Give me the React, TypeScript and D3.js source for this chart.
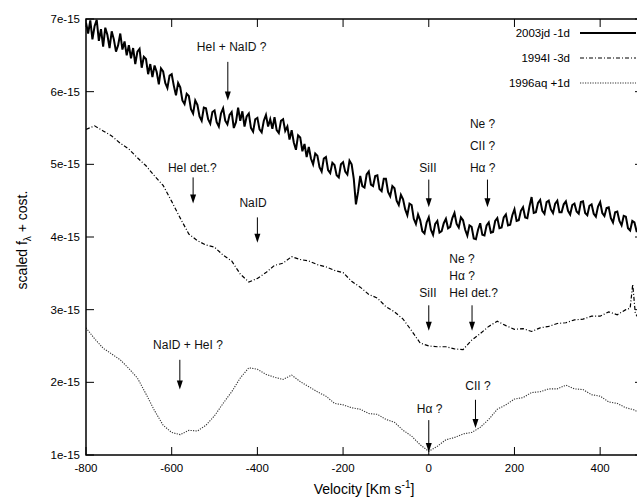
import React from "react";
import * as d3 from "d3";

// ---------- DATA (flux in units of 1e-15) ----------
const sn2003jdVel = d3.range(-800, 491, 5);
const sn2003jdFlux = [
  6.95, 6.8, 6.98, 6.72, 6.9, 6.99, 6.7, 6.86, 6.62, 6.88,
  6.78, 6.6, 6.83, 6.72, 6.55, 6.64, 6.8, 6.58, 6.69, 6.5,
  6.64, 6.46, 6.6, 6.38, 6.55, 6.59, 6.33, 6.48, 6.45, 6.24,
  6.38, 6.2, 6.36, 6.27, 6.1, 6.32, 6.28, 6.12, 6.05, 6.22,
  6.24, 6.08, 5.95, 6.12, 6.06, 5.88, 5.83, 5.97, 5.94, 5.76,
  5.7, 5.88, 5.82, 5.66, 5.6, 5.78, 5.77, 5.62, 5.56, 5.72,
  5.74, 5.58, 5.52, 5.7, 5.77, 5.6, 5.55, 5.68, 5.72, 5.5,
  5.58, 5.78, 5.6, 5.73, 5.52, 5.66, 5.7, 5.5, 5.45, 5.62,
  5.64, 5.48, 5.44, 5.6, 5.68, 5.52, 5.62, 5.49, 5.65, 5.47,
  5.43, 5.6, 5.62, 5.46, 5.52, 5.34, 5.47, 5.3, 5.2, 5.4,
  5.37, 5.18, 5.28, 5.1, 5.24, 5.08, 5.0, 5.15, 5.12, 4.96,
  4.9, 5.08, 5.1, 4.92, 4.88, 5.02, 4.99, 4.85, 4.82, 5.0,
  5.03, 4.9, 4.86, 5.05, 5.0, 4.8, 4.45, 4.62, 4.84, 4.7,
  4.68, 4.86, 4.9, 4.72, 4.7, 4.84, 4.85, 4.66, 4.63, 4.8,
  4.8, 4.62, 4.56, 4.7, 4.67, 4.5, 4.44, 4.58, 4.52, 4.38,
  4.3, 4.46, 4.44, 4.25, 4.18, 4.31, 4.23, 4.08, 4.05, 4.2,
  4.27, 4.1, 4.03, 4.18, 4.22, 4.06, 4.08, 4.19, 4.25, 4.12,
  4.14, 4.26, 4.33, 4.18, 4.13, 4.27, 4.23, 4.1, 4.02, 4.16,
  4.14, 3.98, 3.97, 4.1, 4.19, 4.03, 4.02, 4.16, 4.2, 4.06,
  4.07, 4.22, 4.26, 4.12, 4.13, 4.27, 4.31, 4.16, 4.17, 4.3,
  4.38, 4.22, 4.23, 4.36, 4.41, 4.27, 4.26, 4.42, 4.55, 4.33,
  4.34, 4.47, 4.51, 4.36, 4.32, 4.48, 4.5, 4.38, 4.33, 4.46,
  4.5, 4.34, 4.34, 4.45, 4.49, 4.36, 4.31, 4.44, 4.46, 4.35,
  4.32, 4.48, 4.49, 4.33, 4.3, 4.43, 4.45, 4.32, 4.28, 4.42,
  4.48, 4.33, 4.29, 4.4, 4.41, 4.26, 4.2, 4.34, 4.35, 4.22,
  4.16, 4.29, 4.28, 4.12, 4.09, 4.22, 4.2, 4.08, 4.08,
];

const sn1994IVel = [
  -800, -780, -760, -740, -720, -700, -680, -660, -640, -620,
  -600, -580, -560, -540, -520, -500, -480, -460, -440, -420,
  -400, -380, -360, -340, -320, -300, -280, -260, -240, -220,
  -200, -180, -160, -140, -120, -100, -80, -60, -40, -20,
  0, 20, 40, 60, 80, 100, 120, 140, 160, 180,
  200, 220, 240, 260, 280, 300, 320, 340, 360, 380,
  400, 420, 440, 460, 470, 476, 482, 490,
];
const sn1994IFlux = [
  5.48, 5.53, 5.46, 5.39, 5.29, 5.21, 5.09, 4.98, 4.84, 4.71,
  4.49, 4.26, 4.04, 3.95, 3.89, 3.86, 3.75, 3.67, 3.49, 3.38,
  3.43, 3.51, 3.61, 3.64, 3.73, 3.69, 3.67, 3.62, 3.59, 3.54,
  3.51, 3.39, 3.31, 3.21, 3.16, 3.04, 2.97, 2.87, 2.71, 2.54,
  2.5, 2.49, 2.49, 2.46, 2.45, 2.58, 2.67, 2.77, 2.84, 2.78,
  2.73, 2.74, 2.7, 2.75, 2.77, 2.81, 2.82, 2.86, 2.87, 2.91,
  2.91, 2.97, 2.93, 3.0, 3.02, 3.35, 2.95, 2.88,
];

const sn1996aqVel = [
  -800, -780, -760, -740, -720, -700, -680, -660, -640, -620,
  -600, -580, -560, -540, -520, -500, -480, -460, -440, -420,
  -400, -380, -360, -340, -320, -300, -280, -260, -240, -220,
  -200, -180, -160, -140, -120, -100, -80, -60, -40, -20,
  0, 20, 40, 60, 80, 100, 120, 140, 160, 180,
  200, 220, 240, 260, 280, 300, 320, 340, 360, 380,
  400, 420, 440, 460, 480, 490,
];
const sn1996aqFlux = [
  2.75, 2.6, 2.47, 2.39, 2.31, 2.19, 2.06, 1.84, 1.61, 1.41,
  1.31, 1.28, 1.34, 1.33, 1.41, 1.54, 1.71, 1.87, 2.06, 2.2,
  2.18, 2.11, 2.07, 2.04, 2.1, 2.01, 1.94, 1.87, 1.81, 1.71,
  1.69, 1.65, 1.63, 1.57, 1.56, 1.49, 1.45, 1.34, 1.26, 1.14,
  1.05, 1.12, 1.21, 1.24, 1.29, 1.31, 1.38, 1.49, 1.63, 1.69,
  1.77, 1.79, 1.86, 1.87, 1.91, 1.91, 1.96, 1.91, 1.9, 1.83,
  1.81, 1.73, 1.71, 1.65, 1.62, 1.58,
];

const xTicks = [-800, -600, -400, -200, 0, 200, 400];
const yTicks = [1, 2, 3, 4, 5, 6, 7];
const yTickLabels = ["1e-15", "2e-15", "3e-15", "4e-15", "5e-15", "6e-15", "7e-15"];

const legendLabels = ["2003jd -1d", "1994I -3d", "1996aq +1d"];

// annotations: label lines, arrow velocity, arrow from/to flux, text baseline flux of last line
const annotations = [
  { lines: ["HeI + NaID ?"], v: -469, from: 6.41, to: 5.88, text: 6.56, anchor: "middle", tx: -460, gap: 22 },
  { lines: ["HeI det.?"], v: -550, from: 4.82, to: 4.46, text: 4.9, anchor: "middle", tx: -552, gap: 22 },
  { lines: ["NaID"], v: -400, from: 4.27, to: 3.92, text: 4.41, anchor: "middle", tx: -410, gap: 22 },
  { lines: ["SiII"], v: 0, from: 4.79, to: 4.41, text: 4.9, anchor: "middle", tx: -2, gap: 22 },
  { lines: ["Ne  ?", "CII ?", "Hα ?"], v: 137, from: 4.79, to: 4.41, text: 4.9, anchor: "start", tx: 96, gap: 22 },
  { lines: ["SiII"], v: 0, from: 3.06, to: 2.71, text: 3.18, anchor: "middle", tx: -2, gap: 22 },
  { lines: ["Ne  ?", "Hα ?", "HeI det.?"], v: 101, from: 3.06, to: 2.71, text: 3.18, anchor: "start", tx: 48, gap: 17 },
  { lines: ["NaID + HeI ?"], v: -581, from: 2.31, to: 1.9, text: 2.46, anchor: "middle", tx: -562, gap: 22 },
  { lines: ["Hα ?"], v: 0, from: 1.48, to: 1.04, text: 1.58, anchor: "middle", tx: 2, gap: 22 },
  { lines: ["CII ?"], v: 109, from: 1.76, to: 1.37, text: 1.89, anchor: "middle", tx: 115, gap: 22 },
];

// ---------- LAYOUT ----------
const W = 637;
const H = 500;
const M = { left: 86, right: 643, top: 19, bottom: 455 };
const FONT = "'Liberation Sans', Arial, Helvetica, sans-serif";

export default function App() {
  const x = d3.scaleLinear().domain([-800, 500]).range([M.left, M.right]);
  const y = d3.scaleLinear().domain([1, 7]).range([M.bottom, M.top]);

  const line = (vs: number[], fs: number[]) =>
    d3
      .line<number>()
      .x((_, i) => x(vs[i]))
      .y((f) => y(f))(fs) || "";

  const series = [
    { vel: sn2003jdVel, flux: sn2003jdFlux, stroke: "#000", width: 2, dash: undefined as string | undefined },
    { vel: sn1994IVel, flux: sn1994IFlux, stroke: "#000", width: 1.2, dash: "4,2,1,2" },
    { vel: sn1996aqVel, flux: sn1996aqFlux, stroke: "#333", width: 1.1, dash: "1.2,1.3" },
  ];

  const tickLen = 8;

  return (
    <svg
      width={W}
      height={H}
      style={{ position: "absolute", left: 0, top: 0, background: "#fff" }}
      fontFamily={FONT}
    >
      <defs>
        <clipPath id="plotclip">
          <rect x={M.left} y={M.top} width={M.right - M.left} height={M.bottom - M.top} />
        </clipPath>
      </defs>

      {/* curves */}
      <g clipPath="url(#plotclip)">
        {series.map((s, i) => (
          <path
            key={i}
            d={line(s.vel, s.flux)}
            fill="none"
            stroke={s.stroke}
            strokeWidth={s.width}
            strokeDasharray={s.dash}
            strokeLinejoin="miter"
          />
        ))}
      </g>

      {/* frame */}
      <rect
        x={M.left}
        y={M.top}
        width={M.right - M.left}
        height={M.bottom - M.top}
        fill="none"
        stroke="#000"
        strokeWidth={1.5}
      />

      {/* x ticks */}
      {xTicks.map((t) => (
        <g key={t}>
          <line x1={x(t)} x2={x(t)} y1={M.bottom} y2={M.bottom - tickLen} stroke="#000" strokeWidth={1} />
          <line x1={x(t)} x2={x(t)} y1={M.top} y2={M.top + tickLen} stroke="#000" strokeWidth={1} />
          <text x={x(t)} y={M.bottom + 17} textAnchor="middle" fontSize={11.5} fill="#000">
            {t}
          </text>
        </g>
      ))}

      {/* y ticks */}
      {yTicks.map((t, i) => (
        <g key={t}>
          <line x1={M.left} x2={M.left + tickLen} y1={y(t)} y2={y(t)} stroke="#000" strokeWidth={1} />
          <line x1={M.right} x2={M.right - tickLen} y1={y(t)} y2={y(t)} stroke="#000" strokeWidth={1} />
          <text x={M.left - 6} y={y(t) + 4} textAnchor="end" fontSize={11.5} fill="#000">
            {yTickLabels[i]}
          </text>
        </g>
      ))}

      {/* axis labels */}
      <text x={364} y={494} textAnchor="middle" fontSize={14} fill="#000">
        Velocity [Km s
        <tspan dy={-6} fontSize={10}>-1</tspan>
        <tspan dy={6}>]</tspan>
      </text>
      <text
        transform="translate(27,240) rotate(-90)"
        textAnchor="middle"
        fontSize={14}
        fill="#000"
      >
        scaled f<tspan dy={4} fontSize={10}>λ</tspan>
        <tspan dy={-4}> + cost.</tspan>
      </text>

      {/* legend */}
      {legendLabels.map((lab, i) => (
        <g key={lab}>
          <text x={570} y={37 + i * 25} textAnchor="end" fontSize={11.5} fill="#000">
            {lab}
          </text>
          <line
            x1={580}
            x2={636}
            y1={33 + i * 25}
            y2={33 + i * 25}
            stroke={series[i].stroke}
            strokeWidth={i === 0 ? 2.2 : series[i].width}
            strokeDasharray={series[i].dash}
          />
        </g>
      ))}

      {/* annotations */}
      {annotations.map((a, i) => {
        const ax = x(a.v);
        const y1 = y(a.from);
        const y2 = y(a.to);
        const n = a.lines.length;
        return (
          <g key={i}>
            {a.lines.map((l, j) => (
              <text
                key={j}
                x={x(a.tx)}
                y={y(a.text) - (n - 1 - j) * a.gap}
                textAnchor={a.anchor as any}
                fontSize={12}
                fill="#111"
              >
                {l}
              </text>
            ))}
            <line x1={ax} x2={ax} y1={y1} y2={y2 - 6} stroke="#000" strokeWidth={1} />
            <path d={`M${ax - 3},${y2 - 9} L${ax + 3},${y2 - 9} L${ax},${y2} Z`} fill="#000" />
          </g>
        );
      })}
    </svg>
  );
}
